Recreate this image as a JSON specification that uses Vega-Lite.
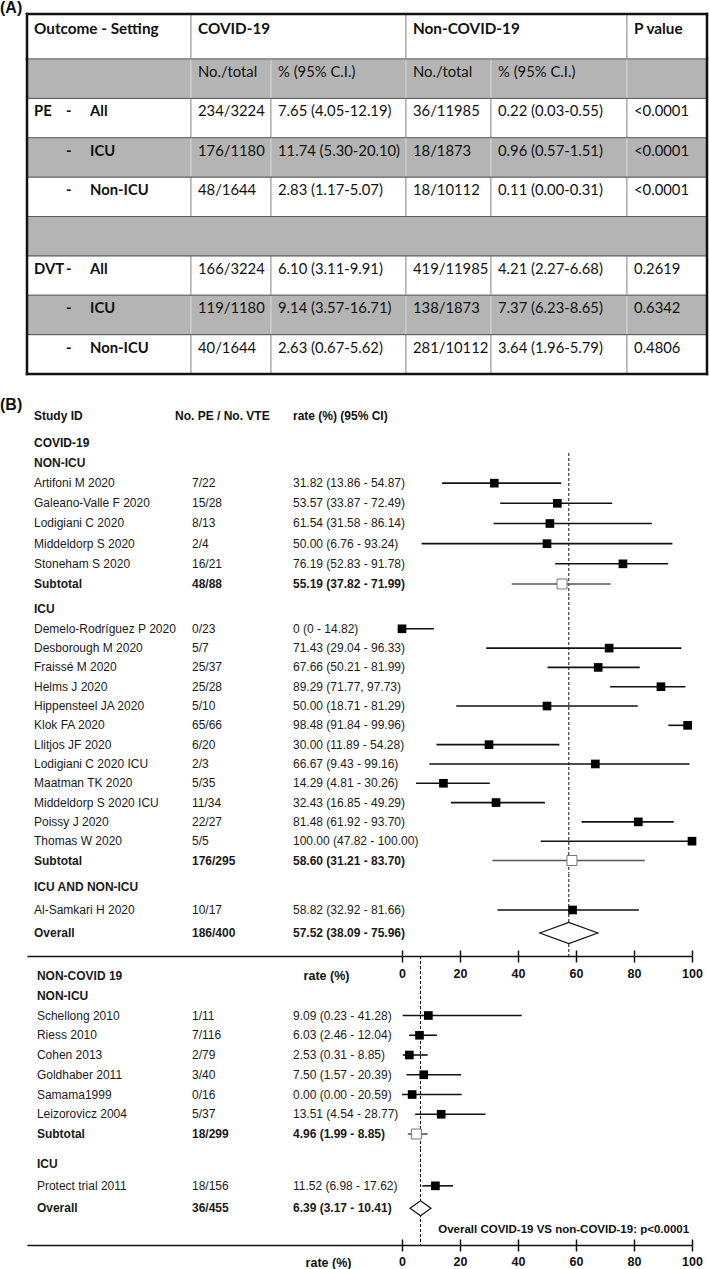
{
"$schema": "https://vega.github.io/schema/vega-lite/v6.json",
"background": "white",
"padding": 0,
"spacing": 0,
"bounds": "flush",
"config": {"view": {"stroke": null}},
"datasets": {
"thead": [
{"r": "h", "c0": 0, "c1": 1, "t": "Outcome - Setting"},
{"r": "h", "c0": 1, "c1": 3, "t": "COVID-19"},
{"r": "h", "c0": 3, "c1": 5, "t": "Non-COVID-19"},
{"r": "h", "c0": 5, "c1": 6, "t": "P value"}
],
"tbody": [
{"r": "s", "c0": 0, "c1": 1, "t": ""},
{"r": "s", "c0": 1, "c1": 2, "t": "No./total"},
{"r": "s", "c0": 2, "c1": 3, "t": "% (95% C.I.)"},
{"r": "s", "c0": 3, "c1": 4, "t": "No./total"},
{"r": "s", "c0": 4, "c1": 5, "t": "% (95% C.I.)"},
{"r": "s", "c0": 5, "c1": 6, "t": ""},
{"r": "pe_all", "c0": 0, "c1": 1, "t": "PE", "dash": "-", "sub": "All"},
{"r": "pe_all", "c0": 1, "c1": 2, "t": "234/3224"},
{"r": "pe_all", "c0": 2, "c1": 3, "t": "7.65 (4.05-12.19)"},
{"r": "pe_all", "c0": 3, "c1": 4, "t": "36/11985"},
{"r": "pe_all", "c0": 4, "c1": 5, "t": "0.22 (0.03-0.55)"},
{"r": "pe_all", "c0": 5, "c1": 6, "t": "<0.0001"},
{"r": "pe_icu", "c0": 0, "c1": 1, "t": "", "dash": "-", "sub": "ICU"},
{"r": "pe_icu", "c0": 1, "c1": 2, "t": "176/1180"},
{"r": "pe_icu", "c0": 2, "c1": 3, "t": "11.74 (5.30-20.10)"},
{"r": "pe_icu", "c0": 3, "c1": 4, "t": "18/1873"},
{"r": "pe_icu", "c0": 4, "c1": 5, "t": "0.96 (0.57-1.51)"},
{"r": "pe_icu", "c0": 5, "c1": 6, "t": "<0.0001"},
{"r": "pe_non", "c0": 0, "c1": 1, "t": "", "dash": "-", "sub": "Non-ICU"},
{"r": "pe_non", "c0": 1, "c1": 2, "t": "48/1644"},
{"r": "pe_non", "c0": 2, "c1": 3, "t": "2.83 (1.17-5.07)"},
{"r": "pe_non", "c0": 3, "c1": 4, "t": "18/10112"},
{"r": "pe_non", "c0": 4, "c1": 5, "t": "0.11 (0.00-0.31)"},
{"r": "pe_non", "c0": 5, "c1": 6, "t": "<0.0001"},
{"r": "blank", "c0": 0, "c1": 6, "t": ""},
{"r": "dvt_all", "c0": 0, "c1": 1, "t": "DVT", "dash": "-", "sub": "All"},
{"r": "dvt_all", "c0": 1, "c1": 2, "t": "166/3224"},
{"r": "dvt_all", "c0": 2, "c1": 3, "t": "6.10 (3.11-9.91)"},
{"r": "dvt_all", "c0": 3, "c1": 4, "t": "419/11985"},
{"r": "dvt_all", "c0": 4, "c1": 5, "t": "4.21 (2.27-6.68)"},
{"r": "dvt_all", "c0": 5, "c1": 6, "t": "0.2619"},
{"r": "dvt_icu", "c0": 0, "c1": 1, "t": "", "dash": "-", "sub": "ICU"},
{"r": "dvt_icu", "c0": 1, "c1": 2, "t": "119/1180"},
{"r": "dvt_icu", "c0": 2, "c1": 3, "t": "9.14 (3.57-16.71)"},
{"r": "dvt_icu", "c0": 3, "c1": 4, "t": "138/1873"},
{"r": "dvt_icu", "c0": 4, "c1": 5, "t": "7.37 (6.23-8.65)"},
{"r": "dvt_icu", "c0": 5, "c1": 6, "t": "0.6342"},
{"r": "dvt_non", "c0": 0, "c1": 1, "t": "", "dash": "-", "sub": "Non-ICU"},
{"r": "dvt_non", "c0": 1, "c1": 2, "t": "40/1644"},
{"r": "dvt_non", "c0": 2, "c1": 3, "t": "2.63 (0.67-5.62)"},
{"r": "dvt_non", "c0": 3, "c1": 4, "t": "281/10112"},
{"r": "dvt_non", "c0": 4, "c1": 5, "t": "3.64 (1.96-5.79)"},
{"r": "dvt_non", "c0": 5, "c1": 6, "t": "0.4806"}
],
"forest": [
{"panel": "C0", "id": "hdr", "kind": "head", "study": "Study ID", "n": "No. PE / No. VTE", "ci": "rate (%) (95% CI)"},
{"panel": "C0", "id": "covid", "kind": "section", "study": "COVID-19"},
{"panel": "C1", "id": "c_nonicu", "kind": "section", "study": "NON-ICU"},
{"panel": "C1", "id": "c_art", "kind": "study", "study": "Artifoni M 2020", "n": "7/22", "ci": "31.82 (13.86 - 54.87)", "est": 31.82, "lo": 13.86, "hi": 54.87},
{"panel": "C1", "id": "c_gal", "kind": "study", "study": "Galeano-Valle F 2020", "n": "15/28", "ci": "53.57 (33.87 - 72.49)", "est": 53.57, "lo": 33.87, "hi": 72.49},
{"panel": "C1", "id": "c_lod", "kind": "study", "study": "Lodigiani C 2020", "n": "8/13", "ci": "61.54 (31.58 - 86.14)", "est": 51, "lo": 31.58, "hi": 86.14},
{"panel": "C1", "id": "c_mid", "kind": "study", "study": "Middeldorp S 2020", "n": "2/4", "ci": "50.00 (6.76 - 93.24)", "est": 50, "lo": 6.76, "hi": 93.24},
{"panel": "C1", "id": "c_sto", "kind": "study", "study": "Stoneham S 2020", "n": "16/21", "ci": "76.19 (52.83 - 91.78)", "est": 76.19, "lo": 52.83, "hi": 91.78},
{"panel": "C1", "id": "c_sub1", "kind": "subtotal", "study": "Subtotal", "n": "48/88", "ci": "55.19 (37.82 -  71.99)", "est": 55.19, "lo": 37.82, "hi": 71.99},
{"panel": "C2", "id": "c_icu", "kind": "section", "study": "ICU"},
{"panel": "C2", "id": "c_dem", "kind": "study", "study": "Demelo-Rodríguez P 2020", "n": "0/23", "ci": "0 (0 - 14.82)", "est": 0, "lo": 0, "hi": 11},
{"panel": "C2", "id": "c_des", "kind": "study", "study": "Desborough M 2020", "n": "5/7", "ci": "71.43 (29.04 - 96.33)", "est": 71.43, "lo": 29.04, "hi": 96.33},
{"panel": "C2", "id": "c_fra", "kind": "study", "study": "Fraissé M 2020", "n": "25/37", "ci": "67.66 (50.21 - 81.99)", "est": 67.66, "lo": 50.21, "hi": 81.99},
{"panel": "C2", "id": "c_hel", "kind": "study", "study": "Helms J 2020", "n": "25/28", "ci": "89.29 (71.77, 97.73)", "est": 89.29, "lo": 71.77, "hi": 97.73},
{"panel": "C2", "id": "c_hip", "kind": "study", "study": "Hippensteel JA 2020", "n": "5/10", "ci": "50.00 (18.71 - 81.29)", "est": 50, "lo": 18.71, "hi": 81.29},
{"panel": "C2", "id": "c_klo", "kind": "study", "study": "Klok FA 2020", "n": "65/66", "ci": "98.48 (91.84 - 99.96)", "est": 98.48, "lo": 91.84, "hi": 99.96},
{"panel": "C2", "id": "c_lli", "kind": "study", "study": "Llitjos JF 2020", "n": "6/20", "ci": "30.00 (11.89 - 54.28)", "est": 30, "lo": 11.89, "hi": 54.28},
{"panel": "C2", "id": "c_lodi", "kind": "study", "study": "Lodigiani C 2020 ICU", "n": "2/3", "ci": "66.67 (9.43 - 99.16)", "est": 66.67, "lo": 9.43, "hi": 99.16},
{"panel": "C2", "id": "c_maa", "kind": "study", "study": "Maatman TK 2020", "n": "5/35", "ci": "14.29 (4.81 - 30.26)", "est": 14.29, "lo": 4.81, "hi": 30.26},
{"panel": "C2", "id": "c_midi", "kind": "study", "study": "Middeldorp S 2020 ICU", "n": "11/34", "ci": "32.43 (16.85 - 49.29)", "est": 32.43, "lo": 16.85, "hi": 49.29},
{"panel": "C2", "id": "c_poi", "kind": "study", "study": "Poissy J 2020", "n": "22/27", "ci": "81.48 (61.92 - 93.70)", "est": 81.48, "lo": 61.92, "hi": 93.7},
{"panel": "C2", "id": "c_tho", "kind": "study", "study": "Thomas W 2020", "n": "5/5", "ci": "100.00 (47.82 - 100.00)", "est": 100, "lo": 47.82, "hi": 100},
{"panel": "C2", "id": "c_sub2", "kind": "subtotal", "study": "Subtotal", "n": "176/295", "ci": "58.60 (31.21 - 83.70)", "est": 58.6, "lo": 31.21, "hi": 83.7},
{"panel": "C3", "id": "c_mixed", "kind": "section", "study": "ICU AND NON-ICU"},
{"panel": "C3", "id": "c_als", "kind": "study", "study": "Al-Samkari H 2020", "n": "10/17", "ci": "58.82 (32.92 - 81.66)", "est": 58.82, "lo": 32.92, "hi": 81.66},
{"panel": "C3", "id": "c_overall", "kind": "overall", "study": "Overall", "n": "186/400", "ci": "57.52 (38.09 - 75.96)", "est": 57.52, "lo": 38.09, "hi": 75.96},
{"panel": "N1", "id": "n_head", "kind": "section", "study": "NON-COVID 19"},
{"panel": "N1", "id": "n_nonicu", "kind": "section", "study": "NON-ICU"},
{"panel": "N1", "id": "n_sch", "kind": "study", "study": "Schellong 2010", "n": "1/11", "ci": "9.09 (0.23 - 41.28)", "est": 9.09, "lo": 0.23, "hi": 41.28},
{"panel": "N1", "id": "n_rie", "kind": "study", "study": "Riess 2010", "n": "7/116", "ci": "6.03 (2.46 - 12.04)", "est": 6.03, "lo": 2.46, "hi": 12.04},
{"panel": "N1", "id": "n_coh", "kind": "study", "study": "Cohen 2013", "n": "2/79", "ci": "2.53 (0.31 - 8.85)", "est": 2.53, "lo": 0.31, "hi": 8.85},
{"panel": "N1", "id": "n_gol", "kind": "study", "study": "Goldhaber 2011", "n": "3/40", "ci": "7.50 (1.57 - 20.39)", "est": 7.5, "lo": 1.57, "hi": 20.39},
{"panel": "N1", "id": "n_sam", "kind": "study", "study": "Samama1999", "n": "0/16", "ci": "0.00 (0.00 - 20.59)", "est": 3.5, "lo": 0, "hi": 20.59},
{"panel": "N1", "id": "n_lei", "kind": "study", "study": "Leizorovicz 2004", "n": "5/37", "ci": "13.51 (4.54 - 28.77)", "est": 13.51, "lo": 4.54, "hi": 28.77},
{"panel": "N1", "id": "n_sub", "kind": "subtotal", "study": "Subtotal", "n": "18/299", "ci": "4.96 (1.99 - 8.85)", "est": 4.96, "lo": 1.99, "hi": 8.85},
{"panel": "N2", "id": "n_icu", "kind": "section", "study": "ICU"},
{"panel": "N2", "id": "n_pro", "kind": "study", "study": "Protect trial 2011", "n": "18/156", "ci": "11.52 (6.98 - 17.62)", "est": 11.52, "lo": 6.98, "hi": 17.62},
{"panel": "N2", "id": "n_overall", "kind": "overall", "study": "Overall", "n": "36/455", "ci": "6.39 (3.17 - 10.41)", "est": 6.39, "lo": 3.17, "hi": 10.41},
{"panel": "N2", "id": "n_note", "kind": "note", "note": "Overall COVID-19 VS non-COVID-19: p<0.0001"}
]
},
"vconcat": [
{
"width": 680, "height": 45,
"title": {"text": "(A)", "anchor": "start", "frame": "group", "font": "Liberation Sans", "fontSize": 16, "fontWeight": "bold", "color": "#111", "baseline": "top", "offset": 0, "dx": -27, "dy": 4},
"data": {"name": "thead"},
"layer": [
{"mark": {"type": "rect", "fill": "white", "stroke": "#9a9a9a", "strokeWidth": 1},
"encoding": {
"x": {"field": "c0", "type": "quantitative", "axis": null, "scale": {"type": "linear", "domain": [0,1,2,3,4,5,6], "range": [0,164,244,379,464,600,680], "nice": false, "zero": false}},
"x2": {"field": "c1"},
"y": {"field": "r", "type": "nominal", "axis": null, "scale": {"type": "band", "domain": ["h"], "paddingInner": 0, "paddingOuter": 0}}}},
{"mark": {"type": "text", "align": "left", "baseline": "middle", "dx": 7, "font": "Lato", "fontSize": 15.3, "fontWeight": "bold", "color": "#111"},
"encoding": {
"x": {"field": "c0", "type": "quantitative", "axis": null, "scale": {"type": "linear", "domain": [0,1,2,3,4,5,6], "range": [0,164,244,379,464,600,680], "nice": false, "zero": false}},
"y": {"field": "r", "type": "nominal", "axis": null, "bandPosition": 0.33, "scale": {"type": "band", "domain": ["h"], "paddingInner": 0, "paddingOuter": 0}},
"text": {"field": "t"}}},
{"transform": [{"filter": "datum.c0 === 0"}],
"mark": {"type": "rule", "color": "#111", "strokeWidth": 2.5, "strokeCap": "square"},
"encoding": {"y": {"field": "r", "type": "nominal", "axis": null, "bandPosition": 0, "scale": {"type": "band", "domain": ["h"], "paddingInner": 0, "paddingOuter": 0}}}},
{"transform": [{"filter": "datum.c0 === 0"}],
"mark": {"type": "rule", "color": "#111", "strokeWidth": 2.5, "strokeCap": "square"},
"encoding": {"x": {"field": "c0", "type": "quantitative", "axis": null, "scale": {"type": "linear", "domain": [0,1,2,3,4,5,6], "range": [0,164,244,379,464,600,680], "nice": false, "zero": false}}}},
{"transform": [{"filter": "datum.c1 === 6"}],
"mark": {"type": "rule", "color": "#111", "strokeWidth": 2.5, "strokeCap": "square"},
"encoding": {"x": {"field": "c1", "type": "quantitative", "axis": null, "scale": {"type": "linear", "domain": [0,1,2,3,4,5,6], "range": [0,164,244,379,464,600,680], "nice": false, "zero": false}}}}
]
},
{
"width": 680, "height": 315,
"data": {"name": "tbody"},
"layer": [
{"mark": {"type": "rect", "strokeWidth": 1, "stroke": {"expr": "(datum.r === 's' || datum.r === 'pe_icu' || datum.r === 'blank' || datum.r === 'dvt_icu') ? '#d2d2d2' : '#9a9a9a'"}},
"encoding": {
"x": {"field": "c0", "type": "quantitative", "axis": null, "scale": {"type": "linear", "domain": [0,1,2,3,4,5,6], "range": [0,164,244,379,464,600,680], "nice": false, "zero": false}},
"x2": {"field": "c1"},
"y": {"field": "r", "type": "nominal", "axis": null, "scale": {"type": "band", "domain": ["s","pe_all","pe_icu","pe_non","blank","dvt_all","dvt_icu","dvt_non"], "paddingInner": 0, "paddingOuter": 0}},
"fill": {"condition": {"test": "datum.r === 's' || datum.r === 'pe_icu' || datum.r === 'blank' || datum.r === 'dvt_icu'", "value": "#b4b4b4"}, "value": "white"}}},
{"mark": {"type": "rule", "color": "#5a5a5a", "strokeWidth": 1},
"encoding": {
"x": {"field": "c0", "type": "quantitative", "axis": null, "scale": {"type": "linear", "domain": [0,1,2,3,4,5,6], "range": [0,164,244,379,464,600,680], "nice": false, "zero": false}},
"x2": {"field": "c1"},
"y": {"field": "r", "type": "nominal", "axis": null, "bandPosition": 0, "scale": {"type": "band", "domain": ["s","pe_all","pe_icu","pe_non","blank","dvt_all","dvt_icu","dvt_non"], "paddingInner": 0, "paddingOuter": 0}}}},
{"transform": [{"filter": "datum.t !== ''"}],
"mark": {"type": "text", "align": "left", "baseline": "middle", "dx": 7, "font": "Lato", "fontSize": 14.8, "color": "#111", "fontWeight": {"expr": "datum.c0 === 0 ? 'bold' : 'normal'"}},
"encoding": {
"x": {"field": "c0", "type": "quantitative", "axis": null, "scale": {"type": "linear", "domain": [0,1,2,3,4,5,6], "range": [0,164,244,379,464,600,680], "nice": false, "zero": false}},
"y": {"field": "r", "type": "nominal", "axis": null, "bandPosition": 0.355, "scale": {"type": "band", "domain": ["s","pe_all","pe_icu","pe_non","blank","dvt_all","dvt_icu","dvt_non"], "paddingInner": 0, "paddingOuter": 0}},
"text": {"field": "t"}}},
{"transform": [{"filter": "isValid(datum.sub)"}],
"mark": {"type": "text", "align": "left", "baseline": "middle", "dx": 39, "font": "Lato", "fontSize": 14.8, "color": "#111", "fontWeight": "bold"},
"encoding": {
"x": {"field": "c0", "type": "quantitative", "axis": null, "scale": {"type": "linear", "domain": [0,1,2,3,4,5,6], "range": [0,164,244,379,464,600,680], "nice": false, "zero": false}},
"y": {"field": "r", "type": "nominal", "axis": null, "bandPosition": 0.355, "scale": {"type": "band", "domain": ["s","pe_all","pe_icu","pe_non","blank","dvt_all","dvt_icu","dvt_non"], "paddingInner": 0, "paddingOuter": 0}},
"text": {"field": "dash"}}},
{"transform": [{"filter": "isValid(datum.sub)"}],
"mark": {"type": "text", "align": "left", "baseline": "middle", "dx": 63, "font": "Lato", "fontSize": 14.8, "color": "#111", "fontWeight": "bold"},
"encoding": {
"x": {"field": "c0", "type": "quantitative", "axis": null, "scale": {"type": "linear", "domain": [0,1,2,3,4,5,6], "range": [0,164,244,379,464,600,680], "nice": false, "zero": false}},
"y": {"field": "r", "type": "nominal", "axis": null, "bandPosition": 0.355, "scale": {"type": "band", "domain": ["s","pe_all","pe_icu","pe_non","blank","dvt_all","dvt_icu","dvt_non"], "paddingInner": 0, "paddingOuter": 0}},
"text": {"field": "sub"}}},
{"transform": [{"filter": "datum.r === 'dvt_non' && datum.c0 === 0"}],
"mark": {"type": "rule", "color": "#111", "strokeWidth": 2.5, "strokeCap": "square"},
"encoding": {"y": {"field": "r", "type": "nominal", "axis": null, "bandPosition": 1, "scale": {"type": "band", "domain": ["s","pe_all","pe_icu","pe_non","blank","dvt_all","dvt_icu","dvt_non"], "paddingInner": 0, "paddingOuter": 0}}}},
{"transform": [{"filter": "datum.r === 's' && datum.c0 === 0"}],
"mark": {"type": "rule", "color": "#111", "strokeWidth": 2.5, "strokeCap": "square"},
"encoding": {"x": {"field": "c0", "type": "quantitative", "axis": null, "scale": {"type": "linear", "domain": [0,1,2,3,4,5,6], "range": [0,164,244,379,464,600,680], "nice": false, "zero": false}}}},
{"transform": [{"filter": "datum.r === 's' && datum.c1 === 6"}],
"mark": {"type": "rule", "color": "#111", "strokeWidth": 2.5, "strokeCap": "square"},
"encoding": {"x": {"field": "c1", "type": "quantitative", "axis": null, "scale": {"type": "linear", "domain": [0,1,2,3,4,5,6], "range": [0,164,244,379,464,600,680], "nice": false, "zero": false}}}}
]
},
{
"width": 665, "height": 79,
"title": {"text": "(B)", "anchor": "start", "frame": "group", "font": "Liberation Sans", "fontSize": 16, "fontWeight": "bold", "color": "#111", "baseline": "top", "offset": 0, "dx": -27, "dy": 39},
"data": {"name": "forest"},
"transform": [{"filter": "datum.panel === 'C0'"}],
"layer": [
{"mark": {"type": "text", "align": "left", "baseline": "middle", "font": "Liberation Sans", "fontSize": 12, "fontWeight": "bold", "color": "#111"},
"encoding": {"x": {"datum": -126.9, "axis": null, "scale": {"domain": [-129.31, 100], "nice": false, "zero": false}},
"y": {"field": "id", "type": "nominal", "axis": null, "scale": {"type": "point", "domain": ["hdr","covid"], "padding": 1.217, "align": 0.804}},
"text": {"field": "study"}}},
{"transform": [{"filter": "isValid(datum.n)"}],
"mark": {"type": "text", "align": "left", "baseline": "middle", "font": "Liberation Sans", "fontSize": 12, "fontWeight": "bold", "color": "#111"},
"encoding": {"x": {"datum": -78.28, "axis": null, "scale": {"domain": [-129.31, 100], "nice": false, "zero": false}},
"y": {"field": "id", "type": "nominal", "axis": null, "scale": {"type": "point", "domain": ["hdr","covid"], "padding": 1.217, "align": 0.804}},
"text": {"field": "n"}}},
{"transform": [{"filter": "isValid(datum.ci)"}],
"mark": {"type": "text", "align": "left", "baseline": "middle", "font": "Liberation Sans", "fontSize": 12, "fontWeight": "bold", "color": "#111"},
"encoding": {"x": {"datum": -37.6, "axis": null, "scale": {"domain": [-129.31, 100], "nice": false, "zero": false}},
"y": {"field": "id", "type": "nominal", "axis": null, "scale": {"type": "point", "domain": ["hdr","covid"], "padding": 1.217, "align": 0.804}},
"text": {"field": "ci"}}}
]
},
{
"width": 665, "height": 143.5,
"data": {"name": "forest"},
"layer": [
{"transform": [{"filter": "datum.id === 'c_overall'"}],
"mark": {"type": "rule", "color": "#111", "strokeWidth": 1, "strokeDash": [3, 2]},
"encoding": {"x": {"field": "est", "type": "quantitative", "axis": null, "scale": {"domain": [-129.31, 100], "nice": false, "zero": false}}}},
{"transform": [{"filter": "datum.panel === 'C1' && (datum.kind === 'study' || datum.kind === 'subtotal')"}],
"mark": {"type": "rule", "strokeWidth": 1.6, "color": {"expr": "datum.kind === 'subtotal' ? '#555' : '#111'"}},
"encoding": {"x": {"field": "lo", "type": "quantitative", "axis": null, "scale": {"domain": [-129.31, 100], "nice": false, "zero": false}}, "x2": {"field": "hi"},
"y": {"field": "id", "type": "nominal", "axis": null, "scale": {"type": "point", "domain": ["c_nonicu","c_art","c_gal","c_lod","c_mid","c_sto","c_sub1"], "padding": 0.558, "align": 0.444}}}},
{"transform": [{"filter": "datum.panel === 'C1' && datum.kind === 'study'"}],
"mark": {"type": "point", "shape": "square", "filled": true, "color": "#000", "size": 75, "opacity": 1},
"encoding": {"x": {"field": "est", "type": "quantitative", "axis": null, "scale": {"domain": [-129.31, 100], "nice": false, "zero": false}},
"y": {"field": "id", "type": "nominal", "axis": null, "scale": {"type": "point", "domain": ["c_nonicu","c_art","c_gal","c_lod","c_mid","c_sto","c_sub1"], "padding": 0.558, "align": 0.444}}}},
{"transform": [{"filter": "datum.panel === 'C1' && datum.kind === 'subtotal'"}],
"mark": {"type": "point", "shape": "square", "filled": true, "fill": "white", "stroke": "#777", "strokeWidth": 1, "size": 100, "opacity": 1},
"encoding": {"x": {"field": "est", "type": "quantitative", "axis": null, "scale": {"domain": [-129.31, 100], "nice": false, "zero": false}},
"y": {"field": "id", "type": "nominal", "axis": null, "scale": {"type": "point", "domain": ["c_nonicu","c_art","c_gal","c_lod","c_mid","c_sto","c_sub1"], "padding": 0.558, "align": 0.444}}}},
{"transform": [{"filter": "datum.panel === 'C1'"}],
"mark": {"type": "text", "align": "left", "baseline": "middle", "font": "Liberation Sans", "fontSize": 12, "color": "#1a1a1a", "fontWeight": {"expr": "datum.kind === 'study' ? 'normal' : 'bold'"}},
"encoding": {"x": {"datum": -126.9, "axis": null, "scale": {"domain": [-129.31, 100], "nice": false, "zero": false}},
"y": {"field": "id", "type": "nominal", "axis": null, "scale": {"type": "point", "domain": ["c_nonicu","c_art","c_gal","c_lod","c_mid","c_sto","c_sub1"], "padding": 0.558, "align": 0.444}},
"text": {"field": "study"}}},
{"transform": [{"filter": "datum.panel === 'C1' && isValid(datum.n)"}],
"mark": {"type": "text", "align": "left", "baseline": "middle", "font": "Liberation Sans", "fontSize": 12, "color": "#1a1a1a", "fontWeight": {"expr": "datum.kind === 'study' ? 'normal' : 'bold'"}},
"encoding": {"x": {"datum": -72.41, "axis": null, "scale": {"domain": [-129.31, 100], "nice": false, "zero": false}},
"y": {"field": "id", "type": "nominal", "axis": null, "scale": {"type": "point", "domain": ["c_nonicu","c_art","c_gal","c_lod","c_mid","c_sto","c_sub1"], "padding": 0.558, "align": 0.444}},
"text": {"field": "n"}}},
{"transform": [{"filter": "datum.panel === 'C1' && isValid(datum.ci)"}],
"mark": {"type": "text", "align": "left", "baseline": "middle", "font": "Liberation Sans", "fontSize": 12, "color": "#1a1a1a", "fontWeight": {"expr": "datum.kind === 'study' ? 'normal' : 'bold'"}},
"encoding": {"x": {"datum": -37.6, "axis": null, "scale": {"domain": [-129.31, 100], "nice": false, "zero": false}},
"y": {"field": "id", "type": "nominal", "axis": null, "scale": {"type": "point", "domain": ["c_nonicu","c_art","c_gal","c_lod","c_mid","c_sto","c_sub1"], "padding": 0.558, "align": 0.444}},
"text": {"field": "ci"}}}
]
},
{
"width": 665, "height": 276.5,
"data": {"name": "forest"},
"layer": [
{"transform": [{"filter": "datum.id === 'c_overall'"}],
"mark": {"type": "rule", "color": "#111", "strokeWidth": 1, "strokeDash": [3, 2]},
"encoding": {"x": {"field": "est", "type": "quantitative", "axis": null, "scale": {"domain": [-129.31, 100], "nice": false, "zero": false}}}},
{"transform": [{"filter": "datum.panel === 'C2' && (datum.kind === 'study' || datum.kind === 'subtotal')"}],
"mark": {"type": "rule", "strokeWidth": 1.6, "color": {"expr": "datum.kind === 'subtotal' ? '#555' : '#111'"}},
"encoding": {"x": {"field": "lo", "type": "quantitative", "axis": null, "scale": {"domain": [-129.31, 100], "nice": false, "zero": false}}, "x2": {"field": "hi"},
"y": {"field": "id", "type": "nominal", "axis": null, "scale": {"type": "point", "domain": ["c_icu","c_dem","c_des","c_fra","c_hel","c_hip","c_klo","c_lli","c_lodi","c_maa","c_midi","c_poi","c_tho","c_sub2"], "padding": 0.66, "align": 0.49}}}},
{"transform": [{"filter": "datum.panel === 'C2' && datum.kind === 'study'"}],
"mark": {"type": "point", "shape": "square", "filled": true, "color": "#000", "size": 75, "opacity": 1},
"encoding": {"x": {"field": "est", "type": "quantitative", "axis": null, "scale": {"domain": [-129.31, 100], "nice": false, "zero": false}},
"y": {"field": "id", "type": "nominal", "axis": null, "scale": {"type": "point", "domain": ["c_icu","c_dem","c_des","c_fra","c_hel","c_hip","c_klo","c_lli","c_lodi","c_maa","c_midi","c_poi","c_tho","c_sub2"], "padding": 0.66, "align": 0.49}}}},
{"transform": [{"filter": "datum.panel === 'C2' && datum.kind === 'subtotal'"}],
"mark": {"type": "point", "shape": "square", "filled": true, "fill": "white", "stroke": "#777", "strokeWidth": 1, "size": 100, "opacity": 1},
"encoding": {"x": {"field": "est", "type": "quantitative", "axis": null, "scale": {"domain": [-129.31, 100], "nice": false, "zero": false}},
"y": {"field": "id", "type": "nominal", "axis": null, "scale": {"type": "point", "domain": ["c_icu","c_dem","c_des","c_fra","c_hel","c_hip","c_klo","c_lli","c_lodi","c_maa","c_midi","c_poi","c_tho","c_sub2"], "padding": 0.66, "align": 0.49}}}},
{"transform": [{"filter": "datum.panel === 'C2'"}],
"mark": {"type": "text", "align": "left", "baseline": "middle", "font": "Liberation Sans", "fontSize": 12, "color": "#1a1a1a", "fontWeight": {"expr": "datum.kind === 'study' ? 'normal' : 'bold'"}},
"encoding": {"x": {"datum": -126.9, "axis": null, "scale": {"domain": [-129.31, 100], "nice": false, "zero": false}},
"y": {"field": "id", "type": "nominal", "axis": null, "scale": {"type": "point", "domain": ["c_icu","c_dem","c_des","c_fra","c_hel","c_hip","c_klo","c_lli","c_lodi","c_maa","c_midi","c_poi","c_tho","c_sub2"], "padding": 0.66, "align": 0.49}},
"text": {"field": "study"}}},
{"transform": [{"filter": "datum.panel === 'C2' && isValid(datum.n)"}],
"mark": {"type": "text", "align": "left", "baseline": "middle", "font": "Liberation Sans", "fontSize": 12, "color": "#1a1a1a", "fontWeight": {"expr": "datum.kind === 'study' ? 'normal' : 'bold'"}},
"encoding": {"x": {"datum": -72.41, "axis": null, "scale": {"domain": [-129.31, 100], "nice": false, "zero": false}},
"y": {"field": "id", "type": "nominal", "axis": null, "scale": {"type": "point", "domain": ["c_icu","c_dem","c_des","c_fra","c_hel","c_hip","c_klo","c_lli","c_lodi","c_maa","c_midi","c_poi","c_tho","c_sub2"], "padding": 0.66, "align": 0.49}},
"text": {"field": "n"}}},
{"transform": [{"filter": "datum.panel === 'C2' && isValid(datum.ci)"}],
"mark": {"type": "text", "align": "left", "baseline": "middle", "font": "Liberation Sans", "fontSize": 12, "color": "#1a1a1a", "fontWeight": {"expr": "datum.kind === 'study' ? 'normal' : 'bold'"}},
"encoding": {"x": {"datum": -37.6, "axis": null, "scale": {"domain": [-129.31, 100], "nice": false, "zero": false}},
"y": {"field": "id", "type": "nominal", "axis": null, "scale": {"type": "point", "domain": ["c_icu","c_dem","c_des","c_fra","c_hel","c_hip","c_klo","c_lli","c_lodi","c_maa","c_midi","c_poi","c_tho","c_sub2"], "padding": 0.66, "align": 0.49}},
"text": {"field": "ci"}}}
]
},
{
"width": 665, "height": 82,
"data": {"name": "forest"},
"resolve": {"axis": {"x": "independent"}},
"layer": [
{"transform": [{"filter": "datum.id === 'c_overall'"}],
"mark": {"type": "rule", "color": "#111", "strokeWidth": 1, "strokeDash": [3, 2]},
"encoding": {"x": {"field": "est", "type": "quantitative", "scale": {"domain": [-129.31, 100], "nice": false, "zero": false},
"axis": {"orient": "bottom", "values": [0, 20, 40, 60, 80, 100], "format": "d", "grid": false, "domainColor": "#111", "domainWidth": 1.6, "tickColor": "#111", "tickWidth": 1.5, "tickSize": 6, "labelFont": "Liberation Sans", "labelFontSize": 12.5, "labelFontWeight": "bold", "labelColor": "#111", "labelPadding": 5, "labelFlush": false, "labelOverlap": false, "title": "rate (%)", "titleFont": "Liberation Sans", "titleFontSize": 12.5, "titleFontWeight": "bold", "titleColor": "#111", "titleAngle": 0, "titleAlign": "center", "titleBaseline": "middle", "titleX": 299, "titleY": 19}}}},
{"transform": [{"filter": "datum.panel === 'C3' && (datum.kind === 'study' || datum.kind === 'subtotal')"}],
"mark": {"type": "rule", "strokeWidth": 1.6, "color": "#111"},
"encoding": {"x": {"field": "lo", "type": "quantitative", "scale": {"domain": [-129.31, 100], "nice": false, "zero": false},
"axis": {"orient": "bottom", "values": [0, 20, 40, 60, 80, 100], "domain": false, "labels": false, "grid": false, "tickSize": -6, "tickColor": "#111", "tickWidth": 1.5, "title": null}}, "x2": {"field": "hi"},
"y": {"field": "id", "type": "nominal", "axis": null, "scale": {"type": "point", "domain": ["c_mixed","c_als","c_overall"], "padding": 0.783, "align": 0.361}}}},
{"transform": [{"filter": "datum.panel === 'C3' && datum.kind === 'study'"}],
"mark": {"type": "point", "shape": "square", "filled": true, "color": "#000", "size": 75, "opacity": 1},
"encoding": {"x": {"field": "est", "type": "quantitative", "axis": null, "scale": {"domain": [-129.31, 100], "nice": false, "zero": false}},
"y": {"field": "id", "type": "nominal", "axis": null, "scale": {"type": "point", "domain": ["c_mixed","c_als","c_overall"], "padding": 0.783, "align": 0.361}}}},
{"transform": [{"filter": "datum.panel === 'C3' && datum.kind === 'overall'"}],
"mark": {"type": "point", "shape": "M-1,0L0,-0.362L1,0L0,0.362Z", "size": 3364, "filled": true, "fill": "white", "stroke": "#111", "strokeWidth": 1.2, "opacity": 1},
"encoding": {"x": {"field": "est", "type": "quantitative", "axis": null, "scale": {"domain": [-129.31, 100], "nice": false, "zero": false}},
"y": {"field": "id", "type": "nominal", "axis": null, "scale": {"type": "point", "domain": ["c_mixed","c_als","c_overall"], "padding": 0.783, "align": 0.361}}}},
{"transform": [{"filter": "datum.panel === 'C3'"}],
"mark": {"type": "text", "align": "left", "baseline": "middle", "font": "Liberation Sans", "fontSize": 12, "color": "#1a1a1a", "fontWeight": {"expr": "datum.kind === 'study' ? 'normal' : 'bold'"}},
"encoding": {"x": {"datum": -126.9, "axis": null, "scale": {"domain": [-129.31, 100], "nice": false, "zero": false}},
"y": {"field": "id", "type": "nominal", "axis": null, "scale": {"type": "point", "domain": ["c_mixed","c_als","c_overall"], "padding": 0.783, "align": 0.361}},
"text": {"field": "study"}}},
{"transform": [{"filter": "datum.panel === 'C3' && isValid(datum.n)"}],
"mark": {"type": "text", "align": "left", "baseline": "middle", "font": "Liberation Sans", "fontSize": 12, "color": "#1a1a1a", "fontWeight": {"expr": "datum.kind === 'study' ? 'normal' : 'bold'"}},
"encoding": {"x": {"datum": -72.41, "axis": null, "scale": {"domain": [-129.31, 100], "nice": false, "zero": false}},
"y": {"field": "id", "type": "nominal", "axis": null, "scale": {"type": "point", "domain": ["c_mixed","c_als","c_overall"], "padding": 0.783, "align": 0.361}},
"text": {"field": "n"}}},
{"transform": [{"filter": "datum.panel === 'C3' && isValid(datum.ci)"}],
"mark": {"type": "text", "align": "left", "baseline": "middle", "font": "Liberation Sans", "fontSize": 12, "color": "#1a1a1a", "fontWeight": {"expr": "datum.kind === 'study' ? 'normal' : 'bold'"}},
"encoding": {"x": {"datum": -37.6, "axis": null, "scale": {"domain": [-129.31, 100], "nice": false, "zero": false}},
"y": {"field": "id", "type": "nominal", "axis": null, "scale": {"type": "point", "domain": ["c_mixed","c_als","c_overall"], "padding": 0.783, "align": 0.361}},
"text": {"field": "ci"}}}
]
},
{
"width": 665, "height": 192.5,
"data": {"name": "forest"},
"layer": [
{"transform": [{"filter": "datum.id === 'n_overall'"}],
"mark": {"type": "rule", "color": "#111", "strokeWidth": 1, "strokeDash": [3, 2]},
"encoding": {"x": {"field": "est", "type": "quantitative", "axis": null, "scale": {"domain": [-129.31, 100], "nice": false, "zero": false}}}},
{"transform": [{"filter": "datum.panel === 'N1' && (datum.kind === 'study' || datum.kind === 'subtotal')"}],
"mark": {"type": "rule", "strokeWidth": 1.6, "color": {"expr": "datum.kind === 'subtotal' ? '#555' : '#111'"}},
"encoding": {"x": {"field": "lo", "type": "quantitative", "axis": null, "scale": {"domain": [-129.31, 100], "nice": false, "zero": false}}, "x2": {"field": "hi"},
"y": {"field": "id", "type": "nominal", "axis": null, "scale": {"type": "point", "domain": ["n_head","n_nonicu","n_sch","n_rie","n_coh","n_gol","n_sam","n_lei","n_sub"], "padding": 0.873, "align": 0.58}}}},
{"transform": [{"filter": "datum.panel === 'N1' && datum.kind === 'study'"}],
"mark": {"type": "point", "shape": "square", "filled": true, "color": "#000", "size": 75, "opacity": 1},
"encoding": {"x": {"field": "est", "type": "quantitative", "axis": null, "scale": {"domain": [-129.31, 100], "nice": false, "zero": false}},
"y": {"field": "id", "type": "nominal", "axis": null, "scale": {"type": "point", "domain": ["n_head","n_nonicu","n_sch","n_rie","n_coh","n_gol","n_sam","n_lei","n_sub"], "padding": 0.873, "align": 0.58}}}},
{"transform": [{"filter": "datum.panel === 'N1' && datum.kind === 'subtotal'"}],
"mark": {"type": "point", "shape": "square", "filled": true, "fill": "white", "stroke": "#777", "strokeWidth": 1, "size": 100, "opacity": 1},
"encoding": {"x": {"field": "est", "type": "quantitative", "axis": null, "scale": {"domain": [-129.31, 100], "nice": false, "zero": false}},
"y": {"field": "id", "type": "nominal", "axis": null, "scale": {"type": "point", "domain": ["n_head","n_nonicu","n_sch","n_rie","n_coh","n_gol","n_sam","n_lei","n_sub"], "padding": 0.873, "align": 0.58}}}},
{"transform": [{"filter": "datum.panel === 'N1'"}],
"mark": {"type": "text", "align": "left", "baseline": "middle", "font": "Liberation Sans", "fontSize": 12, "color": "#1a1a1a", "fontWeight": {"expr": "datum.kind === 'study' ? 'normal' : 'bold'"}},
"encoding": {"x": {"datum": -125.9, "axis": null, "scale": {"domain": [-129.31, 100], "nice": false, "zero": false}},
"y": {"field": "id", "type": "nominal", "axis": null, "scale": {"type": "point", "domain": ["n_head","n_nonicu","n_sch","n_rie","n_coh","n_gol","n_sam","n_lei","n_sub"], "padding": 0.873, "align": 0.58}},
"text": {"field": "study"}}},
{"transform": [{"filter": "datum.panel === 'N1' && isValid(datum.n)"}],
"mark": {"type": "text", "align": "left", "baseline": "middle", "font": "Liberation Sans", "fontSize": 12, "color": "#1a1a1a", "fontWeight": {"expr": "datum.kind === 'study' ? 'normal' : 'bold'"}},
"encoding": {"x": {"datum": -72.41, "axis": null, "scale": {"domain": [-129.31, 100], "nice": false, "zero": false}},
"y": {"field": "id", "type": "nominal", "axis": null, "scale": {"type": "point", "domain": ["n_head","n_nonicu","n_sch","n_rie","n_coh","n_gol","n_sam","n_lei","n_sub"], "padding": 0.873, "align": 0.58}},
"text": {"field": "n"}}},
{"transform": [{"filter": "datum.panel === 'N1' && isValid(datum.ci)"}],
"mark": {"type": "text", "align": "left", "baseline": "middle", "font": "Liberation Sans", "fontSize": 12, "color": "#1a1a1a", "fontWeight": {"expr": "datum.kind === 'study' ? 'normal' : 'bold'"}},
"encoding": {"x": {"datum": -37.6, "axis": null, "scale": {"domain": [-129.31, 100], "nice": false, "zero": false}},
"y": {"field": "id", "type": "nominal", "axis": null, "scale": {"type": "point", "domain": ["n_head","n_nonicu","n_sch","n_rie","n_coh","n_gol","n_sam","n_lei","n_sub"], "padding": 0.873, "align": 0.58}},
"text": {"field": "ci"}}}
]
},
{
"width": 665, "height": 96,
"data": {"name": "forest"},
"resolve": {"axis": {"x": "independent"}},
"layer": [
{"transform": [{"filter": "datum.id === 'n_overall'"}],
"mark": {"type": "rule", "color": "#111", "strokeWidth": 1, "strokeDash": [3, 2]},
"encoding": {"x": {"field": "est", "type": "quantitative", "scale": {"domain": [-129.31, 100], "nice": false, "zero": false},
"axis": {"orient": "bottom", "values": [0, 20, 40, 60, 80, 100], "format": "d", "grid": false, "domainColor": "#111", "domainWidth": 1.6, "tickColor": "#111", "tickWidth": 1.5, "tickSize": 6, "labelFont": "Liberation Sans", "labelFontSize": 12.5, "labelFontWeight": "bold", "labelColor": "#111", "labelPadding": 4, "labelFlush": false, "labelOverlap": false, "title": "rate (%)", "titleFont": "Liberation Sans", "titleFontSize": 12.5, "titleFontWeight": "bold", "titleColor": "#111", "titleAngle": 0, "titleAlign": "center", "titleBaseline": "middle", "titleX": 301, "titleY": 17}}}},
{"transform": [{"filter": "datum.panel === 'N2' && (datum.kind === 'study' || datum.kind === 'subtotal')"}],
"mark": {"type": "rule", "strokeWidth": 1.6, "color": "#111"},
"encoding": {"x": {"field": "lo", "type": "quantitative", "scale": {"domain": [-129.31, 100], "nice": false, "zero": false},
"axis": {"orient": "bottom", "values": [0, 20, 40, 60, 80, 100], "domain": false, "labels": false, "grid": false, "tickSize": -6, "tickColor": "#111", "tickWidth": 1.5, "title": null}}, "x2": {"field": "hi"},
"y": {"field": "id", "type": "nominal", "axis": null, "scale": {"type": "point", "domain": ["n_icu","n_pro","n_overall","n_note"], "padding": 0.65, "align": 0.5}}}},
{"transform": [{"filter": "datum.panel === 'N2' && datum.kind === 'study'"}],
"mark": {"type": "point", "shape": "square", "filled": true, "color": "#000", "size": 75, "opacity": 1},
"encoding": {"x": {"field": "est", "type": "quantitative", "axis": null, "scale": {"domain": [-129.31, 100], "nice": false, "zero": false}},
"y": {"field": "id", "type": "nominal", "axis": null, "scale": {"type": "point", "domain": ["n_icu","n_pro","n_overall","n_note"], "padding": 0.65, "align": 0.5}}}},
{"transform": [{"filter": "datum.panel === 'N2' && datum.kind === 'overall'"}],
"mark": {"type": "point", "shape": "M-1,0L0,-0.714L1,0L0,0.714Z", "size": 441, "filled": true, "fill": "white", "stroke": "#111", "strokeWidth": 1.2, "opacity": 1},
"encoding": {"x": {"field": "est", "type": "quantitative", "axis": null, "scale": {"domain": [-129.31, 100], "nice": false, "zero": false}},
"y": {"field": "id", "type": "nominal", "axis": null, "scale": {"type": "point", "domain": ["n_icu","n_pro","n_overall","n_note"], "padding": 0.65, "align": 0.5}}}},
{"transform": [{"filter": "datum.panel === 'N2' && isValid(datum.study)"}],
"mark": {"type": "text", "align": "left", "baseline": "middle", "font": "Liberation Sans", "fontSize": 12, "color": "#1a1a1a", "fontWeight": {"expr": "datum.kind === 'study' ? 'normal' : 'bold'"}},
"encoding": {"x": {"datum": -125.9, "axis": null, "scale": {"domain": [-129.31, 100], "nice": false, "zero": false}},
"y": {"field": "id", "type": "nominal", "axis": null, "scale": {"type": "point", "domain": ["n_icu","n_pro","n_overall","n_note"], "padding": 0.65, "align": 0.5}},
"text": {"field": "study"}}},
{"transform": [{"filter": "datum.panel === 'N2' && isValid(datum.n)"}],
"mark": {"type": "text", "align": "left", "baseline": "middle", "font": "Liberation Sans", "fontSize": 12, "color": "#1a1a1a", "fontWeight": {"expr": "datum.kind === 'study' ? 'normal' : 'bold'"}},
"encoding": {"x": {"datum": -72.41, "axis": null, "scale": {"domain": [-129.31, 100], "nice": false, "zero": false}},
"y": {"field": "id", "type": "nominal", "axis": null, "scale": {"type": "point", "domain": ["n_icu","n_pro","n_overall","n_note"], "padding": 0.65, "align": 0.5}},
"text": {"field": "n"}}},
{"transform": [{"filter": "datum.panel === 'N2' && isValid(datum.ci)"}],
"mark": {"type": "text", "align": "left", "baseline": "middle", "font": "Liberation Sans", "fontSize": 12, "color": "#1a1a1a", "fontWeight": {"expr": "datum.kind === 'study' ? 'normal' : 'bold'"}},
"encoding": {"x": {"datum": -37.6, "axis": null, "scale": {"domain": [-129.31, 100], "nice": false, "zero": false}},
"y": {"field": "id", "type": "nominal", "axis": null, "scale": {"type": "point", "domain": ["n_icu","n_pro","n_overall","n_note"], "padding": 0.65, "align": 0.5}},
"text": {"field": "ci"}}},
{"transform": [{"filter": "datum.panel === 'N2' && datum.kind === 'note'"}],
"mark": {"type": "text", "align": "right", "baseline": "middle", "font": "Liberation Sans", "fontSize": 11.5, "fontWeight": "bold", "color": "#111"},
"encoding": {"x": {"datum": 99, "axis": null, "scale": {"domain": [-129.31, 100], "nice": false, "zero": false}},
"y": {"field": "id", "type": "nominal", "axis": null, "scale": {"type": "point", "domain": ["n_icu","n_pro","n_overall","n_note"], "padding": 0.65, "align": 0.5}},
"text": {"field": "note"}}}
]
}
]
}
